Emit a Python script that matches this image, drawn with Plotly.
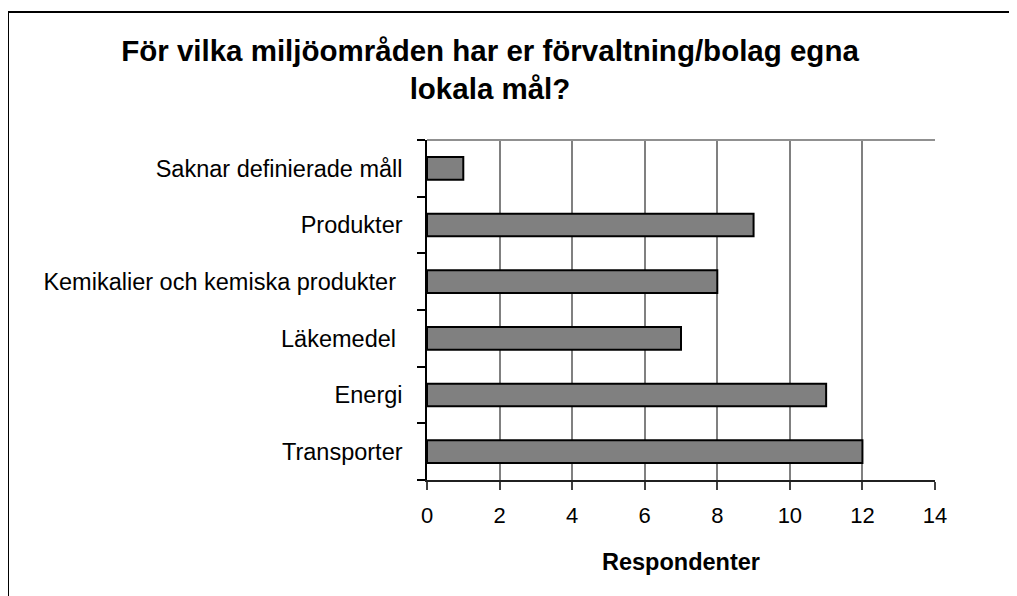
import plotly.graph_objects as go

categories = ["Transporter", "Energi", "Läkemedel ", "Kemikalier och kemiska produkter ",
              "Produkter", "Saknar definierade måll"]
values = [12, 11, 7, 8, 9, 1]
x_ticks = [0, 2, 4, 6, 8, 10, 12, 14]

OFF = 8  # page body margin
W, H = 1017 - OFF, 596 - OFF
L, R, T, B = 427 - OFF, 935 - OFF, 140 - OFF, 480 - OFF

fig = go.Figure(go.Bar(
    x=values, y=categories, orientation="h",
    marker=dict(color="#808080", line=dict(color="#000000", width=2)),
    width=0.4,
))

FONT = "Liberation Sans, Arial, sans-serif"

fig.update_layout(
    width=W, height=H,
    margin=dict(l=L, r=W - R, t=T, b=H - B, pad=0),
    paper_bgcolor="white", plot_bgcolor="white",
    font=dict(family=FONT, color="black", size=23.5),
    showlegend=False,
    title=dict(
        text="<b>För vilka miljöområden har er förvaltning/bolag egna<br>lokala mål?</b>",
        x=(490 - OFF) / W, xref="container", xanchor="center",
        y=1 - 53 / H, yref="container", yanchor="top",
        font=dict(family=FONT, size=29.5, color="black"),
    ),
    xaxis=dict(
        range=[0, 14], tickvals=x_ticks, ticktext=[str(v) for v in x_ticks],
        showgrid=True, gridcolor="#808080", gridwidth=1.5,
        showline=True, linecolor="#202020", linewidth=1.5,
        ticks="outside", ticklen=8, tickcolor="#404040", tickwidth=1.5,
        tickfont=dict(size=22, family=FONT), zeroline=False, ticklabelstandoff=7,
        title=dict(text="<b>Respondenter</b>", font=dict(size=23.5, family=FONT), standoff=26),
    ),
    yaxis=dict(
        type="category", categoryorder="array", categoryarray=categories,
        showgrid=False, showline=True, linecolor="#000000", linewidth=1.5,
        ticks="outside", tickson="boundaries", ticklen=8, tickcolor="#000000", tickwidth=1.5,
        tickfont=dict(size=23.5, family=FONT), ticklabelstandoff=18,
    ),
    shapes=[
        dict(type="line", xref="paper", yref="paper", x0=0, x1=1, y0=1, y1=1,
             line=dict(color="#909090", width=2)),
        dict(type="rect", xref="paper", yref="paper",
             x0=(0 - L) / (R - L), x1=(1030 - L) / (R - L),
             y0=(B - 610) / (B - T), y1=(B - 4) / (B - T),
             line=dict(color="black", width=2), fillcolor="rgba(0,0,0,0)", layer="above"),
    ],
)

fig.write_html("out.html")
